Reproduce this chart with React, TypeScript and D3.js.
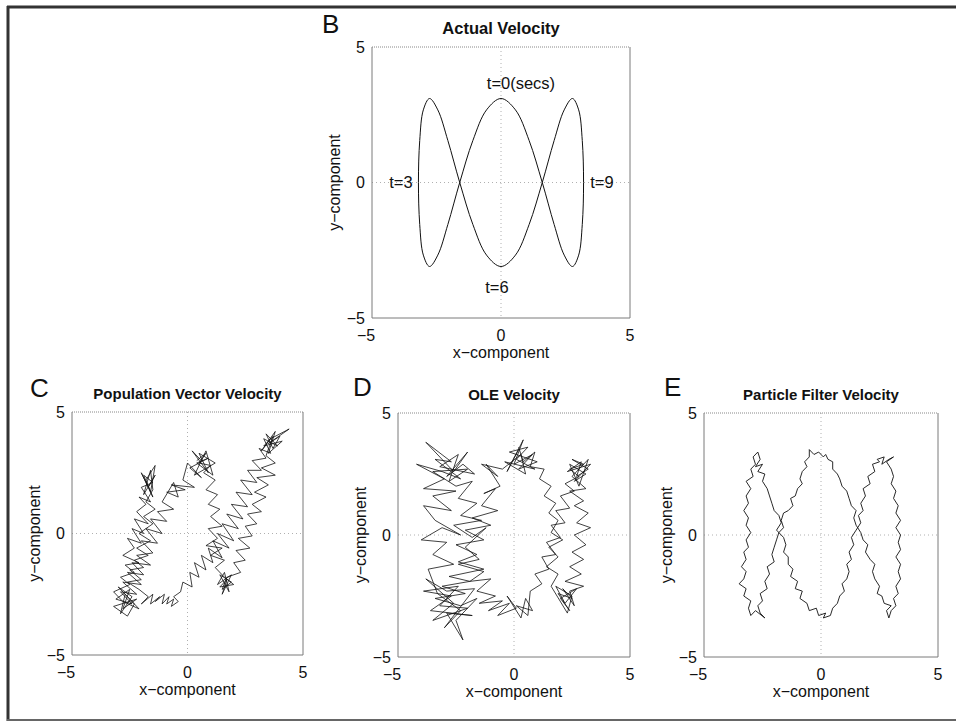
import React from "react";
import * as d3 from "d3";

type Pt = [number, number];

const tickValues = [-5, 0, 5];
const xAxisLabel = "x−component";
const yAxisLabel = "y−component";

// panel B: points (closed loop)
const actualVelocity: Pt[] = [
  [0, 3.1], [-0.56, 2.68], [-1.09, 1.55], [-1.6, 0], [-2.06, -1.55], [-2.45, -2.68],
  [-2.77, -3.1], [-3.01, -2.68], [-3.15, -1.55], [-3.2, 0], [-3.15, 1.55], [-3.01, 2.68],
  [-2.77, 3.1], [-2.45, 2.68], [-2.06, 1.55], [-1.6, 0], [-1.09, -1.55], [-0.56, -2.68],
  [0, -3.1], [0.56, -2.68], [1.09, -1.55], [1.6, 0], [2.06, 1.55], [2.45, 2.68],
  [2.77, 3.1], [3.01, 2.68], [3.15, 1.55], [3.2, 0], [3.15, -1.55], [3.01, -2.68],
  [2.77, -3.1], [2.45, -2.68], [2.06, -1.55], [1.6, 0], [1.09, 1.55], [0.56, 2.68],
];

const timeLabels = ["t=0(secs)", "t=3", "t=6", "t=9"];
const timeLabelX = [-0.55, -4.33, -0.61, 3.46];
const timeLabelY = [3.66, 0, -3.86, 0];

// panel C: population vector estimate
const popVectorVelocity: Pt[] = [
  [0.6, 3.0], [0.2, 3.4], [0.9, 2.5], [0.5, 3.3], [1.2, 2.9], [0.3, 2.4], [0.8, 3.4], [1.1, 2.4],
  [0.4, 2.9], [0.9, 3.1], [0.1, 2.7], [0.6, 2.3], [0.0, 2.9], [-0.2, 2.2], [0.3, 1.9], [-0.7, 2.0],
  [-0.1, 1.8], [-0.9, 1.7], [-0.4, 1.5], [-0.6, 2.1], [-1.1, 1.3], [-0.6, 1.0], [-1.3, 0.9], [-0.9, 0.5],
  [-1.6, 0.6], [-1.1, 0.0], [-1.8, 0.2], [-1.3, -0.4], [-2.0, -0.3], [-1.5, -0.8], [-2.2, -0.9], [-1.6, -1.3],
  [-2.4, -1.2], [-1.9, -1.7], [-2.6, -1.6], [-2.0, -2.1], [-2.8, -2.0], [-2.2, -2.5], [-2.9, -2.4], [-2.4, -2.9],
  [-3.1, -2.7], [-2.5, -2.3], [-2.8, -3.1], [-2.2, -2.7], [-3.2, -3.0], [-2.6, -3.4], [-2.3, -2.9], [-3.0, -2.2],
  [-2.4, -2.6], [-2.9, -3.3], [-2.7, -2.5], [-2.1, -3.1], [-2.8, -2.8], [-3.2, -2.4], [-2.5, -2.1], [-2.9, -1.8],
  [-2.3, -1.6], [-2.7, -1.3], [-2.1, -1.2], [-2.8, -0.9], [-2.3, -0.6], [-2.6, -0.2], [-2.0, -0.4], [-2.4, 0.2],
  [-1.9, 0.0], [-2.3, 0.6], [-1.7, 0.4], [-2.2, 0.9], [-1.8, 1.2], [-2.1, 1.5], [-1.6, 1.3], [-2.0, 1.9],
  [-1.5, 2.1], [-1.9, 2.4], [-1.6, 1.7], [-1.4, 2.8], [-1.8, 2.2], [-1.5, 1.5], [-2.0, 2.5], [-1.7, 1.9],
  [-1.4, 2.4], [-1.9, 1.6], [-1.6, 2.6], [-1.5, 1.8], [-1.8, 1.3], [-1.4, 1.0], [-1.9, 0.7], [-1.5, 0.4],
  [-2.1, 0.0], [-1.6, -0.3], [-2.2, -0.6], [-1.7, -0.9], [-2.3, -1.1], [-1.9, -1.4], [-2.5, -1.5], [-2.0, -1.9],
  [-2.6, -2.0], [-2.1, -2.3], [-1.7, -2.6], [-2.0, -2.9], [-1.5, -2.5], [-1.6, -2.9], [-1.2, -2.6], [-1.4, -2.8],
  [-1.0, -2.5], [-1.1, -2.9], [-0.8, -2.6], [-0.9, -2.9], [-0.6, -2.7], [-0.7, -3.0], [-0.4, -2.8], [-0.6, -2.6],
  [-0.3, -2.4], [-0.2, -2.0], [0.2, -2.2], [0.1, -1.6], [0.5, -1.8], [0.3, -1.2], [0.8, -1.5], [0.6, -0.9],
  [1.1, -1.2], [0.9, -0.6], [1.5, -1.0], [1.1, -0.3], [1.8, -0.6], [1.3, 0.0], [2.0, -0.3], [1.5, 0.4],
  [2.2, 0.2], [1.7, 0.8], [2.4, 0.6], [1.9, 1.2], [2.6, 1.1], [2.1, 1.7], [2.8, 1.6], [2.3, 2.2],
  [3.0, 2.1], [2.6, 2.6], [3.2, 2.6], [2.8, 3.0], [3.4, 3.1], [3.1, 3.5], [3.6, 3.3], [3.3, 3.9],
  [3.9, 3.6], [3.4, 4.1], [3.7, 3.5], [4.0, 4.0], [3.5, 3.7], [4.4, 4.3], [3.6, 3.9], [3.2, 3.4],
  [3.8, 4.2], [3.5, 3.3], [4.1, 3.8], [3.3, 3.6], [3.7, 4.0], [3.4, 3.2], [3.8, 2.9], [3.2, 2.7],
  [3.8, 2.4], [3.0, 2.3], [3.5, 2.0], [2.9, 1.7], [3.4, 1.5], [2.8, 1.2], [3.2, 0.9], [2.6, 0.8],
  [3.0, 0.4], [2.5, 0.3], [2.8, -0.1], [2.2, -0.2], [2.7, -0.6], [2.1, -0.7], [2.5, -1.1], [2.0, -1.2],
  [2.3, -1.6], [1.7, -1.8], [1.5, -2.3], [1.9, -2.0], [1.4, -1.7], [1.8, -2.4], [1.6, -1.6], [1.3, -2.1],
  [1.9, -1.7], [1.5, -2.5], [1.7, -1.9], [1.4, -2.2], [2.0, -2.1], [1.6, -1.8], [1.2, -1.4], [1.6, -1.1],
  [1.0, -0.9], [1.5, -0.6], [0.8, -0.5], [1.3, -0.2], [0.9, 0.2], [1.5, 0.3], [1.0, 0.7], [1.4, 1.0],
  [0.9, 1.2], [1.3, 1.6], [0.8, 1.8], [1.2, 2.2], [0.7, 2.5], [1.0, 2.8], [0.5, 2.9], [0.8, 3.3],
  [0.4, 3.0],
];

// panel D: OLE estimate
const oleVelocity: Pt[] = [
  [0.2, 3.5], [-0.3, 2.6], [0.4, 3.9], [0.0, 2.9], [0.8, 3.3], [0.2, 2.7], [1.0, 3.0], [-0.2, 3.4],
  [0.6, 3.6], [0.1, 3.1], [0.9, 2.7], [-0.4, 3.0], [0.5, 2.5], [0.3, 3.3], [-0.5, 2.7], [-1.4, 2.9],
  [-0.7, 2.4], [-1.2, 2.9], [-0.6, 2.0], [-1.3, 1.7], [-0.8, 1.9], [-1.4, 1.2], [-0.7, 1.0], [-1.8, 0.7],
  [-1.0, 0.4], [-2.1, 0.2], [-1.3, -0.2], [-2.5, -0.4], [-1.6, -0.8], [-2.4, -1.1], [-1.3, -1.4], [-2.8, -1.7],
  [-1.9, -1.9], [-3.1, -2.1], [-2.1, -2.4], [-3.4, -2.6], [-2.3, -2.9], [-1.6, -2.6], [-2.5, -3.5], [-2.2, -4.3],
  [-2.9, -3.2], [-1.8, -3.3], [-3.6, -3.1], [-2.7, -2.5], [-3.9, -2.3], [-2.4, -2.1], [-3.2, -2.9], [-2.0, -3.0],
  [-3.5, -3.5], [-2.6, -2.8], [-3.8, -1.8], [-2.9, -2.3], [-1.7, -2.2], [-3.0, -3.8], [-2.3, -3.1], [-3.3, -2.4],
  [-3.7, -1.4], [-2.6, -1.2], [-3.5, -0.8], [-2.9, -0.3], [-4.0, -0.2], [-3.1, 0.3], [-2.3, 0.0], [-3.4, 0.6],
  [-3.9, 1.2], [-2.7, 1.0], [-3.5, 1.6], [-2.5, 1.8], [-3.9, 1.9], [-3.0, 2.3], [-4.2, 2.9], [-3.1, 2.6],
  [-2.3, 2.3], [-3.4, 3.1], [-2.7, 3.0], [-3.8, 3.8], [-2.6, 2.6], [-2.0, 3.4], [-2.9, 2.4], [-2.2, 2.9],
  [-1.7, 2.5], [-3.2, 2.8], [-2.4, 3.3], [-2.8, 2.2], [-2.0, 2.7], [-3.5, 2.6], [-2.5, 2.0], [-1.8, 2.2],
  [-2.4, 1.5], [-1.6, 1.3], [-2.3, 0.8], [-1.4, 0.6], [-2.6, 0.4], [-1.8, -0.1], [-1.2, 0.3], [-2.1, -0.5],
  [-1.5, -1.0], [-2.4, -1.2], [-1.3, -1.5], [-1.9, -1.9], [-1.0, -1.8], [-1.6, -2.3], [-0.8, -2.5], [-1.5, -2.8],
  [-0.5, -2.7], [-1.1, -3.1], [-0.2, -2.8], [-0.7, -3.3], [0.1, -3.0], [-0.3, -2.5], [0.3, -3.4], [0.5, -2.6],
  [0.8, -3.1], [0.1, -2.9], [0.6, -3.3], [0.7, -2.3], [1.2, -2.0], [0.9, -1.6], [1.5, -1.4], [1.2, -0.9],
  [1.8, -0.8], [1.4, -0.3], [2.0, -0.1], [1.6, 0.4], [2.2, 0.5], [1.8, 1.0], [2.4, 1.1], [2.0, 1.6],
  [2.6, 1.8], [2.2, 2.1], [2.8, 2.4], [2.4, 2.7], [3.0, 2.9], [2.5, 3.1], [3.2, 2.7], [2.7, 2.4],
  [2.9, 3.0], [2.3, 2.6], [3.3, 2.9], [2.6, 2.2], [3.1, 2.5], [2.4, 2.9], [2.8, 2.0], [3.2, 3.1],
  [2.5, 2.4], [3.1, 1.9], [2.4, 1.8], [3.0, 1.4], [2.6, 1.2], [3.2, 0.9], [2.7, 0.5], [3.3, 0.3],
  [2.6, 0.0], [3.1, -0.4], [2.5, -0.7], [3.0, -1.0], [2.4, -1.3], [2.9, -1.6], [2.2, -1.9], [3.0, -2.1],
  [2.4, -2.3], [2.6, -2.9], [2.1, -2.2], [2.5, -2.6], [1.9, -2.4], [2.4, -3.1], [2.0, -2.6], [2.7, -2.2],
  [2.2, -2.8], [1.8, -2.1], [2.5, -2.5], [2.3, -3.2], [1.6, -2.1], [1.9, -1.6], [1.4, -1.3], [1.9, -0.9],
  [1.5, -0.5], [2.1, -0.2], [1.6, 0.1], [1.9, 0.6], [1.5, 0.9], [1.8, 1.3], [1.3, 1.6], [1.6, 2.0],
  [1.1, 2.3], [1.3, 2.7], [0.7, 2.8], [0.9, 3.4], [0.4, 3.0], [0.2, 3.6],
];

// panel E: particle filter estimate
const particleVelocity: Pt[] = [
  [0.1, 3.2], [-0.1, 3.4], [-0.3, 3.3], [-0.5, 3.5], [-0.5, 3.2], [-0.7, 3.0], [-0.6, 2.8], [-0.8, 2.6],
  [-0.9, 2.3], [-0.8, 2.1], [-1.0, 1.9], [-1.1, 1.6], [-1.3, 1.5], [-1.2, 1.2], [-1.4, 1.0], [-1.6, 0.9],
  [-1.7, 0.6], [-1.6, 0.3], [-1.8, 0.1], [-1.9, -0.2], [-2.0, -0.5], [-2.1, -0.8], [-2.0, -1.1], [-2.3, -1.3],
  [-2.2, -1.6], [-2.4, -1.9], [-2.3, -2.2], [-2.6, -2.4], [-2.5, -2.7], [-2.7, -2.9], [-2.6, -3.2], [-2.4, -3.4],
  [-2.8, -3.1], [-3.0, -3.3], [-3.1, -3.0], [-3.0, -2.7], [-3.3, -2.5], [-3.2, -2.2], [-3.5, -2.0], [-3.3, -1.8],
  [-3.2, -1.5], [-3.4, -1.3], [-3.2, -1.0], [-3.3, -0.7], [-3.1, -0.5], [-3.2, -0.2], [-3.0, 0.1], [-3.2, 0.4],
  [-3.1, 0.7], [-3.3, 1.0], [-3.1, 1.3], [-3.2, 1.6], [-3.0, 1.9], [-3.2, 2.2], [-2.9, 2.4], [-3.0, 2.7],
  [-2.8, 2.9], [-2.9, 3.2], [-2.7, 3.4], [-2.6, 3.1], [-2.8, 2.8], [-2.5, 2.9], [-2.7, 2.6], [-2.4, 2.5],
  [-2.5, 2.2], [-2.3, 1.9], [-2.2, 1.6], [-2.1, 1.3], [-2.0, 1.0], [-1.8, 0.8], [-1.7, 0.5], [-1.9, 0.2],
  [-1.6, -0.1], [-1.5, -0.4], [-1.6, -0.7], [-1.4, -0.9], [-1.4, -1.2], [-1.2, -1.4], [-1.3, -1.7], [-1.0, -1.9],
  [-1.1, -2.2], [-0.8, -2.3], [-0.9, -2.6], [-0.6, -2.8], [-0.5, -3.1], [-0.2, -3.0], [-0.1, -3.3], [0.2, -3.2],
  [0.1, -3.4], [0.4, -3.3], [0.5, -3.0], [0.7, -2.8], [0.8, -2.5], [1.0, -2.3], [0.9, -2.0], [1.1, -1.8],
  [1.2, -1.5], [1.1, -1.2], [1.3, -1.0], [1.2, -0.7], [1.4, -0.4], [1.3, -0.1], [1.5, 0.2], [1.7, 0.5],
  [1.6, 0.8], [1.8, 1.0], [1.7, 1.3], [1.9, 1.6], [1.8, 1.9], [2.1, 2.1], [2.0, 2.4], [2.3, 2.6],
  [2.2, 2.9], [2.5, 3.0], [2.4, 3.1], [2.7, 3.2], [2.6, 2.9], [2.9, 3.1], [3.1, 3.2], [2.8, 3.0],
  [3.0, 2.7], [3.1, 2.4], [3.0, 2.1], [3.2, 1.8], [3.1, 1.5], [3.3, 1.2], [3.2, 0.9], [3.4, 0.6],
  [3.2, 0.3], [3.4, 0.0], [3.3, -0.3], [3.4, -0.6], [3.2, -0.9], [3.4, -1.2], [3.3, -1.5], [3.4, -1.8],
  [3.2, -2.1], [3.3, -2.4], [3.1, -2.6], [3.2, -2.9], [3.0, -3.1], [2.9, -3.4], [2.8, -3.1], [3.0, -2.9],
  [2.7, -2.8], [2.6, -2.5], [2.4, -2.4], [2.5, -2.1], [2.3, -1.8], [2.2, -1.5], [2.3, -1.2], [2.1, -1.0],
  [1.9, -0.7], [2.0, -0.4], [1.8, -0.2], [1.7, 0.1], [1.5, 0.4], [1.4, 0.7], [1.5, 1.0], [1.3, 1.2],
  [1.2, 1.5], [1.1, 1.8], [0.9, 2.0], [0.8, 2.3], [0.7, 2.5], [0.5, 2.7], [0.5, 3.0], [0.3, 3.1],
  [0.2, 3.3], [0.1, 3.2],
];

const FONT = "'Liberation Sans', Arial, Helvetica, sans-serif";

type Panel = {
  letter: string;
  title: string;
  data: Pt[];
  closed: boolean;
  left: number;
  right: number;
  top: number;
  bottom: number;
  titleSize: number;
  letterX: number;
  letterY: number;
  strokeWidth: number;
};

const panels: Panel[] = [
  { letter: "B", title: "Actual Velocity", data: actualVelocity, closed: true,
    left: 372, right: 630, top: 47, bottom: 318, titleSize: 16.5, letterX: 322, letterY: 33, strokeWidth: 1 },
  { letter: "C", title: "Population Vector Velocity", data: popVectorVelocity, closed: false,
    left: 72, right: 303, top: 412, bottom: 655, titleSize: 15, letterX: 30, letterY: 397, strokeWidth: 0.8 },
  { letter: "D", title: "OLE Velocity", data: oleVelocity, closed: false,
    left: 398, right: 630, top: 413, bottom: 657, titleSize: 15, letterX: 353, letterY: 396, strokeWidth: 0.8 },
  { letter: "E", title: "Particle Filter Velocity", data: particleVelocity, closed: false,
    left: 704, right: 938, top: 413, bottom: 657, titleSize: 15, letterX: 664, letterY: 396, strokeWidth: 0.9 },
];

function VelocityPanel({ p }: { p: Panel }) {
  const x = d3.scaleLinear().domain([-5, 5]).range([p.left, p.right]);
  const y = d3.scaleLinear().domain([-5, 5]).range([p.bottom, p.top]);
  const line = d3
    .line<Pt>()
    .x((d) => x(d[0]))
    .y((d) => y(d[1]))
    .curve(p.closed ? d3.curveCatmullRomClosed.alpha(0.5) : d3.curveLinear);
  const cx = (p.left + p.right) / 2;
  const cy = (p.top + p.bottom) / 2;
  const axisColor = "#7a7a7a";

  return (
    <g>
      {/* grid at zero */}
      <line x1={x(0)} x2={x(0)} y1={p.top} y2={p.bottom} stroke="#b0b0b0" strokeWidth={1} strokeDasharray="1,3" />
      <line x1={p.left} x2={p.right} y1={y(0)} y2={y(0)} stroke="#b0b0b0" strokeWidth={1} strokeDasharray="1,3" />

      <path d={line(p.data) || ""} fill="none" stroke="#111" strokeWidth={p.strokeWidth} strokeLinejoin="miter" />

      {/* axes box */}
      <line x1={p.left} x2={p.left} y1={p.top} y2={p.bottom} stroke={axisColor} />
      <line x1={p.left} x2={p.right} y1={p.bottom} y2={p.bottom} stroke={axisColor} />
      <line x1={p.right} x2={p.right} y1={p.top} y2={p.bottom} stroke={axisColor} />
      <line x1={p.left} x2={p.right} y1={p.top} y2={p.top} stroke="#888" strokeDasharray="1,1" />

      {tickValues.map((v) => (
        <text key={"x" + v} x={x(v)} y={p.bottom + 23} dx={v < 0 ? -6 : 0} textAnchor="middle"
          fontSize={16} fontFamily={FONT} fill="#111">
          {v < 0 ? "−" + Math.abs(v) : v}
        </text>
      ))}
      {tickValues.map((v) => (
        <text key={"y" + v} x={p.left - 7} y={y(v)} dy="0.35em" textAnchor="end"
          fontSize={16} fontFamily={FONT} fill="#111">
          {v < 0 ? "−" + Math.abs(v) : v}
        </text>
      ))}

      <text x={cx} y={p.bottom + 40} textAnchor="middle" fontSize={16} fontFamily={FONT} fill="#111">
        {xAxisLabel}
      </text>
      <text transform={`translate(${p.left - 32},${cy}) rotate(-90)`} textAnchor="middle"
        fontSize={16} fontFamily={FONT} fill="#111">
        {yAxisLabel}
      </text>

      <text x={cx} y={p.top - 13} textAnchor="middle" fontSize={p.titleSize} fontWeight="bold"
        fontFamily={FONT} fill="#111">
        {p.title}
      </text>
      <text x={p.letterX} y={p.letterY} fontSize={26} fontFamily={FONT} fill="#111">
        {p.letter}
      </text>

      {p.closed &&
        timeLabels.map((t, i) => (
          <text key={t} x={x(timeLabelX[i])} y={y(timeLabelY[i])} dy="0.35em" fontSize={16.5}
            fontFamily={FONT} fill="#111">
            {t}
          </text>
        ))}
    </g>
  );
}

export default function App() {
  return (
    <svg width={956} height={724} style={{ position: "absolute", left: 0, top: 0, background: "#fff" }}>
      <rect x={0} y={0} width={956} height={724} fill="#fff" />
      {/* outer figure frame */}
      <line x1={7} x2={956} y1={7} y2={7} stroke="#333" strokeWidth={3} />
      <line x1={8} x2={8} y1={6} y2={721} stroke="#333" strokeWidth={3} />
      <line x1={7} x2={956} y1={720} y2={720} stroke="#666" strokeWidth={2} />
      {panels.map((p) => (
        <VelocityPanel key={p.letter} p={p} />
      ))}
    </svg>
  );
}
